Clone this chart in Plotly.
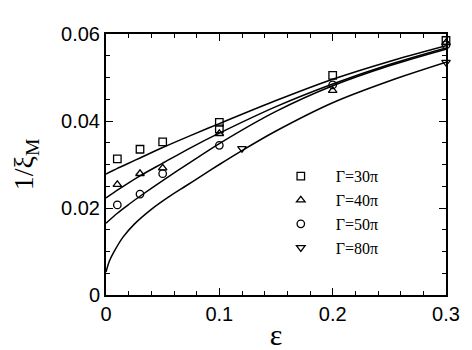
import plotly.graph_objects as go

# measured points
eps_30 = [0.01, 0.03, 0.05, 0.1, 0.1, 0.2, 0.3]
inv_xi_30 = [0.0313, 0.0335, 0.0352, 0.0397, 0.0382, 0.0505, 0.0585]

eps_40 = [0.01, 0.03, 0.05, 0.1, 0.2, 0.3]
inv_xi_40 = [0.0254, 0.0279, 0.0292, 0.0371, 0.0470, 0.0580]

eps_50 = [0.01, 0.03, 0.05, 0.1, 0.2, 0.3]
inv_xi_50 = [0.0207, 0.0232, 0.0279, 0.0344, 0.0483, 0.0575]

eps_80 = [0.12, 0.3]
inv_xi_80 = [0.0337, 0.0535]

# fitted curves
fit_eps = [0.0, 0.01, 0.02, 0.03, 0.05, 0.075, 0.1, 0.15, 0.2, 0.25, 0.3]
fit_30 = [0.0278, 0.0291, 0.0303, 0.0315, 0.0339, 0.0367, 0.0394, 0.0447, 0.0496, 0.0537, 0.0573]
fit_40 = [0.0223, 0.0241, 0.0258, 0.0274, 0.0303, 0.0339, 0.0372, 0.0433, 0.0485, 0.0530, 0.0568]
fit_50 = [0.0165, 0.0188, 0.0208, 0.0227, 0.0263, 0.0306, 0.0348, 0.0422, 0.0481, 0.0527, 0.0565]

fit_eps_80 = [0.0, 0.003, 0.007, 0.015, 0.025, 0.04, 0.055, 0.07, 0.085, 0.1, 0.12, 0.15, 0.2, 0.25, 0.3]
fit_80 = [0.0053, 0.0078, 0.0099, 0.0133, 0.0163, 0.0197, 0.0225, 0.0250, 0.0275, 0.0300, 0.0332,
          0.0377, 0.0442, 0.0492, 0.0535]

labels = ["\u0393=30\u03c0", "\u0393=40\u03c0", "\u0393=50\u03c0", "\u0393=80\u03c0"]
symbols = ["square-open", "triangle-up-open", "circle-open", "triangle-down-open"]

fig = go.Figure()

for xs, ys in ((fit_eps, fit_30), (fit_eps, fit_40), (fit_eps, fit_50), (fit_eps_80, fit_80)):
    fig.add_trace(
        go.Scatter(
            x=xs,
            y=ys,
            mode="lines",
            line={"color": "black", "width": 1.5, "shape": "spline", "smoothing": 0.8},
            showlegend=False,
            hoverinfo="skip",
        )
    )

for xs, ys, label, sym in zip(
    (eps_30, eps_40, eps_50, eps_80),
    (inv_xi_30, inv_xi_40, inv_xi_50, inv_xi_80),
    labels,
    symbols,
):
    fig.add_trace(
        go.Scatter(
            x=xs,
            y=ys,
            mode="markers",
            name=label,
            marker={"symbol": sym, "size": 7.5, "color": "black", "line": {"width": 1.3, "color": "black"}},
            cliponaxis=False,
        )
    )

axis_common = {
    "showline": True,
    "linecolor": "black",
    "linewidth": 2,
    "mirror": "allticks",
    "ticks": "inside",
    "ticklen": 7,
    "tickwidth": 1.3,
    "tickcolor": "black",
    "showgrid": False,
    "zeroline": False,
    "tickfont": {"family": "Liberation Sans, Arial, sans-serif", "size": 20, "color": "black"},
}

fig.update_xaxes(
    range=[0, 0.3],
    dtick=0.1,
    tick0=0,
    minor={"dtick": 0.02, "ticks": "inside", "ticklen": 4, "tickwidth": 1.2, "tickcolor": "black"},
    title={"text": "\u03b5", "font": {"family": "Liberation Serif, Times New Roman, serif", "size": 30}, "standoff": 0},
    **axis_common,
)
fig.update_yaxes(
    range=[0, 0.06],
    dtick=0.02,
    tick0=0,
    minor={"dtick": 0.005, "ticks": "inside", "ticklen": 4, "tickwidth": 1.2, "tickcolor": "black"},
    title={"text": "1/\u03be<sub>M</sub>", "font": {"family": "Liberation Serif, Times New Roman, serif", "size": 28}, "standoff": 21},
    **axis_common,
)

fig.update_layout(
    width=472,
    height=350,
    margin={"l": 96, "r": 34, "t": 26, "b": 51},
    paper_bgcolor="white",
    plot_bgcolor="white",
    font={"color": "black"},
    legend={
        "x": 0.47,
        "y": 0.52,
        "xanchor": "left",
        "yanchor": "top",
        "bgcolor": "rgba(0,0,0,0)",
        "font": {"family": "Liberation Serif, Times New Roman, serif", "size": 16, "color": "black"},
        "itemwidth": 60,
        "tracegroupgap": 3,
    },
)

fig.write_html("out.html")
